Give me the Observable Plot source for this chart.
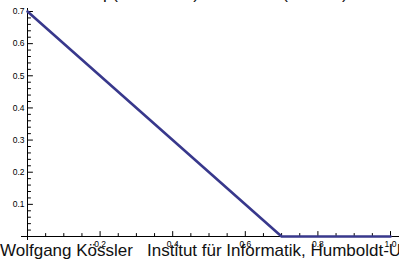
<!DOCTYPE html>
<html>
<head>
<meta charset="utf-8">
<script src="https://cdn.jsdelivr.net/npm/d3@7"></script>
<script src="https://cdn.jsdelivr.net/npm/@observablehq/plot@0.6"></script>
<style>
  html, body { margin: 0; padding: 0; background: #fff; }
  #wrap { position: relative; width: 399px; height: 261px; overflow: hidden; background: #fff; }
  #chart svg { display: block; }
  .txt { position: absolute; font-family: "Liberation Sans", Arial, sans-serif; font-size: 17px; line-height: 17px; color: #111; white-space: nowrap; }
</style>
</head>
<body>
<div id="wrap">
  <div id="chart"></div>
  <div class="txt" style="left:0px; top:242px;">Wolfgang Kössler</div>
  <div class="txt" style="left:147px; top:242px;">Institut für Informatik, Humboldt-Universität zu Berlin</div>
  <div class="txt" style="right:281px; top:-15px;">Dichte p(</div>
  <div class="txt" style="right:200px; top:-15px;">0.7 − x)</div>
  <div class="txt" style="right:111px; top:-15px;">max (</div>
  <div class="txt" style="right:57px; top:-15px;">0.7</div>
  <div class="txt" style="left:342px; top:-15px;">)</div>
</div>
<script>
// series
const xValues = [0, 0.7, 1.0];
const yValues = [0.7, 0, 0];

// ticks
const xMajor = [0.2, 0.4, 0.6, 0.8, 1.0];
const xMinor = [0.05, 0.1, 0.15, 0.25, 0.3, 0.35, 0.45, 0.5, 0.55, 0.65, 0.7, 0.75, 0.85, 0.9, 0.95];
const yMajor = [0.1, 0.2, 0.3, 0.4, 0.5, 0.6, 0.7];
const yMinor = [0.02, 0.04, 0.06, 0.08, 0.12, 0.14, 0.16, 0.18, 0.22, 0.24, 0.26, 0.28,
                0.32, 0.34, 0.36, 0.38, 0.42, 0.44, 0.46, 0.48, 0.52, 0.54, 0.56, 0.58,
                0.62, 0.64, 0.66, 0.68];

const data = xValues.map((x, i) => ({x, y: yValues[i]}));
const stick = {draw(ctx, l) { ctx.moveTo(0, 0); ctx.lineTo(0, -l); }};
const fmt = d => d.toFixed(1);

const chart = Plot.plot({
  width: 399,
  height: 261,
  marginLeft: 27,
  marginRight: 9,
  marginTop: 11,
  marginBottom: 25,
  style: {background: "#fff", fontFamily: "'Liberation Sans', Arial, sans-serif", overflow: "visible"},
  x: {domain: [0, 1]},
  y: {domain: [0, 0.7]},
  marks: [
    Plot.ruleY([0], {stroke: "#000", strokeWidth: 1, insetLeft: -6, insetRight: -9}),
    Plot.ruleX([0], {stroke: "#000", strokeWidth: 1, insetTop: -3, insetBottom: -4}),
    Plot.vector(xMajor, {x: d => d, y: () => 0, length: 5, anchor: "start", rotate: 0, shape: stick, stroke: "#000", strokeWidth: 1}),
    Plot.vector(xMinor, {x: d => d, y: () => 0, length: 3, anchor: "start", rotate: 0, shape: stick, stroke: "#000", strokeWidth: 1}),
    Plot.vector(yMajor, {x: () => 0, y: d => d, length: 5, anchor: "start", rotate: 90, shape: stick, stroke: "#000", strokeWidth: 1}),
    Plot.vector(yMinor, {x: () => 0, y: d => d, length: 3, anchor: "start", rotate: 90, shape: stick, stroke: "#000", strokeWidth: 1}),
    Plot.axisX(xMajor, {tickSize: 0, tickPadding: 4, fontSize: 8.5, tickFormat: fmt, label: null, fill: "#000"}),
    Plot.axisY(yMajor, {tickSize: 0, tickPadding: 3, fontSize: 8.5, tickFormat: fmt, label: null, fill: "#000"}),
    Plot.line(data, {x: "x", y: "y", stroke: "#38388c", strokeWidth: 2.6})
  ]
});
document.getElementById("chart").appendChild(chart);
</script>
</body>
</html>
